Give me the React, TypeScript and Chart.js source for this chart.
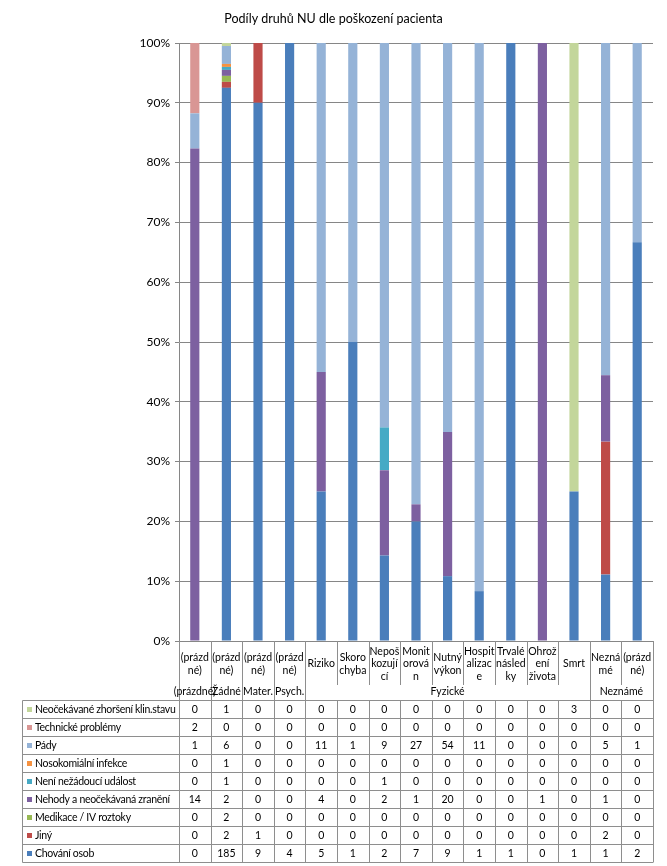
import React, { useEffect, useRef } from "react";
import { Chart, registerables } from "chart.js";

Chart.register(...registerables);

const chartTitle = "Podíly druhů NU dle poškození pacienta";

// category labels as wrapped in the reference (one entry per bar)
const categoryLines: string[][] = [
  ["(prázd", "né)"],
  ["(prázd", "né)"],
  ["(prázd", "né)"],
  ["(prázd", "né)"],
  ["Riziko"],
  ["Skoro", "chyba"],
  ["Nepoš", "kozují", "cí"],
  ["Monit", "orová", "n"],
  ["Nutný", "výkon"],
  ["Hospit", "alizac", "e"],
  ["Trvalé", "násled", "ky"],
  ["Ohrož", "ení", "života"],
  ["Smrt"],
  ["Nezná", "mé"],
  ["(prázd", "né)"],
];

const groupNames = ["(prázdné)", "Žádné", "Mater.", "Psych.", "Fyzické", "Neznámé"];
const groupSpans = [1, 1, 1, 1, 9, 2];

// series values (counts)
const chovaniOsob = [0, 185, 9, 4, 5, 1, 2, 7, 9, 1, 1, 0, 1, 1, 2];
const jiny = [0, 2, 1, 0, 0, 0, 0, 0, 0, 0, 0, 0, 0, 2, 0];
const medikace = [0, 2, 0, 0, 0, 0, 0, 0, 0, 0, 0, 0, 0, 0, 0];
const nehody = [14, 2, 0, 0, 4, 0, 2, 1, 20, 0, 0, 1, 0, 1, 0];
const neniNU = [0, 1, 0, 0, 0, 0, 1, 0, 0, 0, 0, 0, 0, 0, 0];
const nosokomialni = [0, 1, 0, 0, 0, 0, 0, 0, 0, 0, 0, 0, 0, 0, 0];
const pady = [1, 6, 0, 0, 11, 1, 9, 27, 54, 11, 0, 0, 0, 5, 1];
const technicke = [2, 0, 0, 0, 0, 0, 0, 0, 0, 0, 0, 0, 0, 0, 0];
const neocekavane = [0, 1, 0, 0, 0, 0, 0, 0, 0, 0, 0, 0, 3, 0, 0];

const yTicks = [0, 10, 20, 30, 40, 50, 60, 70, 80, 90, 100];

// bottom-to-top stack order
const seriesDefs = [
  { name: "Chování osob", values: chovaniOsob, color: "#4A7EBB" },
  { name: "Jiný", values: jiny, color: "#BE4B48" },
  { name: "Medikace / IV roztoky", values: medikace, color: "#98B954" },
  { name: "Nehody a neočekávaná zranění", values: nehody, color: "#7D60A0" },
  { name: "Není nežádoucí událost", values: neniNU, color: "#46AAC5" },
  { name: "Nosokomiální infekce", values: nosokomialni, color: "#F69240" },
  { name: "Pády", values: pady, color: "#95B3D7" },
  { name: "Technické problémy", values: technicke, color: "#D99694" },
  { name: "Neočekávané zhoršení klin.stavu", values: neocekavane, color: "#C3D69B" },
];

const FONT = "Lato";
const LINE = "#8E8E8E";

const totals = categoryLines.map((_, j) =>
  seriesDefs.reduce((s, d) => s + d.values[j], 0)
);

const tablePlugin = {
  id: "dataTable",
  afterDraw(chart: any) {
    const { ctx, chartArea } = chart;
    const n = categoryLines.length;
    const left = chartArea.left;
    const right = chartArea.right;
    const bottom = chartArea.bottom;
    const cw = (right - left) / n;
    const labelBottom = bottom + 44;
    const groupBottom = bottom + 59;
    const rowH = 18;
    const rows = seriesDefs.slice().reverse();
    const tableBottom = groupBottom + rowH * rows.length;
    const tableLeft = 22;
    const px = (v: number) => Math.round(v) + 0.5;

    ctx.save();
    ctx.strokeStyle = LINE;
    ctx.lineWidth = 1;

    const bounds = new Set<number>();
    let acc = 0;
    bounds.add(0);
    groupSpans.forEach((s) => {
      acc += s;
      bounds.add(acc);
    });

    ctx.beginPath();
    for (let i = 0; i <= n; i++) {
      const x = px(left + i * cw);
      if (bounds.has(i)) {
        ctx.moveTo(x, bottom);
        ctx.lineTo(x, tableBottom);
      } else {
        ctx.moveTo(x, bottom);
        ctx.lineTo(x, labelBottom);
        ctx.moveTo(x, groupBottom);
        ctx.lineTo(x, tableBottom);
      }
    }
    ctx.moveTo(px(tableLeft), px(groupBottom));
    ctx.lineTo(px(tableLeft), px(tableBottom));
    for (let k = 0; k <= rows.length; k++) {
      const y = px(groupBottom + k * rowH);
      ctx.moveTo(px(tableLeft), y);
      ctx.lineTo(px(right), y);
    }
    ctx.stroke();

    ctx.fillStyle = "#000";
    ctx.font = `10.5px ${FONT}`;
    ctx.textAlign = "center";
    ctx.textBaseline = "middle";

    // category labels
    const lh = 12.5;
    const midLabel = (bottom + labelBottom) / 2 + 1;
    categoryLines.forEach((lines, i) => {
      const cx = left + (i + 0.5) * cw;
      const y0 = midLabel - ((lines.length - 1) * lh) / 2;
      lines.forEach((t, k) => ctx.fillText(t, cx, y0 + k * lh));
    });

    // group labels
    let start = 0;
    groupNames.forEach((g, gi) => {
      const span = groupSpans[gi];
      const cx = left + (start + span / 2) * cw;
      ctx.fillText(g, cx, bottom + 51);
      start += span;
    });

    // table rows
    rows.forEach((d, k) => {
      const cy = groupBottom + k * rowH + rowH / 2 + 0.5;
      ctx.fillStyle = d.color;
      ctx.fillRect(27, Math.round(cy - 3), 5, 5);
      ctx.fillStyle = "#000";
      ctx.textAlign = "left";
      (ctx as any).letterSpacing = "-0.3px";
      ctx.fillText(d.name, 35, cy);
      (ctx as any).letterSpacing = "0px";
      ctx.textAlign = "center";
      d.values.forEach((v, i) => {
        ctx.fillText(String(v), left + (i + 0.5) * cw, cy);
      });
    });

    ctx.restore();
  },
};

export default function App() {
  const ref = useRef<HTMLCanvasElement | null>(null);

  useEffect(() => {
    if (!ref.current) return;
    const chart = new Chart(ref.current, {
      type: "bar",
      data: {
        labels: categoryLines.map((l) => l.join("")),
        datasets: seriesDefs.map((d) => ({
          label: d.name,
          data: d.values.map((v, j) => (totals[j] ? (v / totals[j]) * 100 : 0)),
          backgroundColor: d.color,
          borderWidth: 0,
          barPercentage: 0.29,
          categoryPercentage: 1,
        })),
      },
      options: {
        responsive: false,
        animation: false,
        devicePixelRatio: 1,
        layout: { padding: { left: 0, right: 0, top: 0, bottom: 225 } },
        plugins: {
          legend: { display: false },
          tooltip: { enabled: false },
          title: {
            display: true,
            text: chartTitle,
            color: "#000",
            font: { family: FONT, size: 12.5, weight: "normal" },
            padding: { top: 11, bottom: 17 },
          },
        },
        scales: {
          x: {
            stacked: true,
            display: false,
          },
          y: {
            stacked: true,
            min: 0,
            max: 100,
            afterFit: (s: any) => {
              s.width = 179;
            },
            afterBuildTicks: (s: any) => {
              s.ticks = yTicks.map((v) => ({ value: v }));
            },
            ticks: {
              color: "#000",
              font: { family: FONT, size: 12 },
              padding: 5,
              callback: (v: any) => `${v}%`,
            },
            grid: { color: "#868686", tickLength: 4, drawTicks: true },
            border: { display: true, color: "#868686" },
          },
          yRight: {
            position: "right",
            min: 0,
            max: 100,
            ticks: { display: false },
            grid: { display: false, drawTicks: false },
            border: { display: false },
            afterFit: (s: any) => {
              s.width = 14;
            },
          },
        },
      },
      plugins: [tablePlugin],
    });
    return () => chart.destroy();
  }, []);

  return (
    <div style={{ position: "absolute", left: 0, top: 0, width: 667, height: 866, background: "#fff" }}>
      <canvas ref={ref} width={667} height={866} style={{ width: 667, height: 866 }} />
    </div>
  );
}
